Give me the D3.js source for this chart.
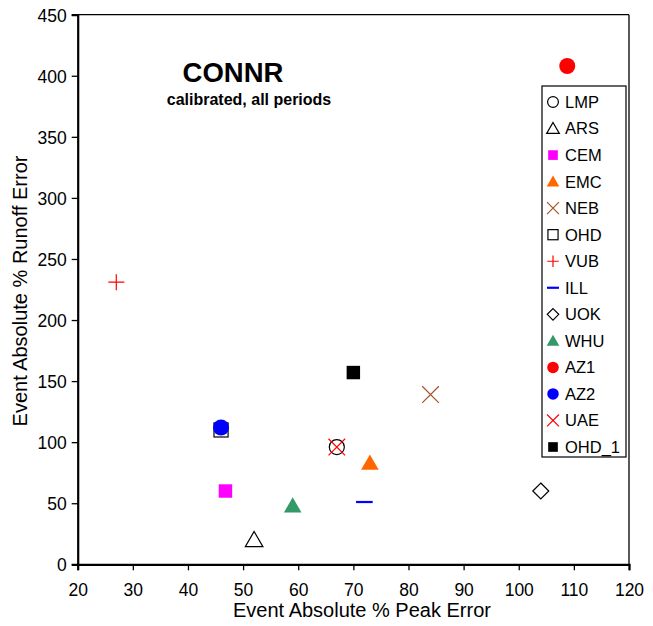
<!DOCTYPE html>
<html>
<head>
<meta charset="utf-8">
<script src="https://cdn.jsdelivr.net/npm/d3@7"></script>
<style>
  body { margin: 0; background: #fff; }
  svg { display: block; font-family: "Liberation Sans", Arial, Helvetica, sans-serif; }
</style>
</head>
<body>
<svg id="chart" width="653" height="626"></svg>
<script>
// Model names, peak error (x) and runoff error (y) per model
const models = ["LMP", "ARS", "CEM", "EMC", "NEB", "OHD", "VUB", "ILL", "UOK", "WHU", "AZ1", "AZ2", "UAE", "OHD_1"];
const peakError = [67, 52, 46.8, 73, 84, 46, 27, 72, 104, 59, 108.8, 46, 67, 70];
const runoffError = [96, 20, 60, 83, 139, 110, 231, 51, 60, 48, 408, 112, 96, 157];
const markerKind = ["circleOpen", "triangleOpen", "square", "triangle", "cross", "squareOpen", "plus", "dash", "diamondOpen", "triangle", "circle", "circle", "cross", "square"];
const markerColor = ["#000", "#000", "#FF00FF", "#FF6600", "#A5522D", "#000", "#FF0000", "#0000FF", "#000", "#339966", "#FF0000", "#0000FF", "#FF0000", "#000"];

const xTicks = [20, 30, 40, 50, 60, 70, 80, 90, 100, 110, 120];
const yTicks = [0, 50, 100, 150, 200, 250, 300, 350, 400, 450];

const svg = d3.select("#chart");
const plotL = 77.7, plotR = 629, plotT = 14.7, plotB = 564.3;

const x = d3.scaleLinear().domain([20, 120]).range([plotL, plotR]);
const y = d3.scaleLinear().domain([0, 450]).range([plotB, plotT]);

// Plot frame
svg.append("line").attr("x1", plotL).attr("x2", plotR).attr("y1", plotT).attr("y2", plotT)
  .attr("stroke", "#000").attr("stroke-width", 1.3);
svg.append("line").attr("x1", plotR).attr("x2", plotR).attr("y1", plotT).attr("y2", plotB)
  .attr("stroke", "#000").attr("stroke-width", 1.3);

// Axes
const xAxis = svg.append("g").attr("transform", `translate(0,${plotB})`)
  .call(d3.axisBottom(x).tickValues(xTicks).tickSize(6).tickPadding(13).tickFormat(d3.format("d")));
const yAxis = svg.append("g").attr("transform", `translate(${plotL},0)`)
  .call(d3.axisLeft(y).tickValues(yTicks).tickSize(6).tickPadding(5).tickFormat(d3.format("d")));
[xAxis, yAxis].forEach(g => {
  g.select(".domain").attr("stroke", "#000").attr("stroke-width", 2.2);
  g.selectAll(".tick line").attr("stroke", "#000").attr("stroke-width", 1.3);
  g.selectAll(".tick text").attr("fill", "#000").attr("font-size", 17.5)
    .attr("font-family", "Liberation Sans, Arial, sans-serif");
});
yAxis.selectAll(".tick text").attr("dy", "0.36em");

// Axis titles
svg.append("text").attr("x", 362).attr("y", 617).attr("text-anchor", "middle")
  .attr("font-size", 20).text("Event Absolute % Peak Error");
svg.append("text").attr("transform", `translate(27,291) rotate(-90)`)
  .attr("text-anchor", "middle").attr("font-size", 20).text("Event Absolute % Runoff Error");

// Chart title
svg.append("text").attr("x", 233).attr("y", 82).attr("text-anchor", "middle")
  .attr("font-size", 27.5).attr("font-weight", "bold").text("CONNR");
svg.append("text").attr("x", 249).attr("y", 105).attr("text-anchor", "middle")
  .attr("font-size", 16).attr("font-weight", "bold").text("calibrated, all periods");

// Draws one marker of the given kind centred at the origin of g
function drawMarker(g, kind, color, s) {
  switch (kind) {
    case "circle":
      g.append("circle").attr("r", s * 0.5).attr("fill", color); break;
    case "circleOpen":
      g.append("circle").attr("r", s * 0.47).attr("fill", "none").attr("stroke", color).attr("stroke-width", 1.2); break;
    case "square":
      g.append("rect").attr("x", -s * 0.42).attr("y", -s * 0.42).attr("width", s * 0.84).attr("height", s * 0.84).attr("fill", color); break;
    case "squareOpen":
      g.append("rect").attr("x", -s * 0.44).attr("y", -s * 0.44).attr("width", s * 0.88).attr("height", s * 0.88)
        .attr("fill", "none").attr("stroke", color).attr("stroke-width", 1.2); break;
    case "triangle":
    case "triangleOpen": {
      const w = s * 1.1, h = s * 0.95;
      const p = `M0,${-h * 0.55}L${w / 2},${h * 0.45}L${-w / 2},${h * 0.45}Z`;
      const path = g.append("path").attr("d", p);
      if (kind === "triangle") path.attr("fill", color);
      else path.attr("fill", "none").attr("stroke", color).attr("stroke-width", 1.2);
      break;
    }
    case "cross": {
      const r = s * 0.52;
      g.append("path").attr("d", `M${-r},${-r}L${r},${r}M${-r},${r}L${r},${-r}`)
        .attr("stroke", color).attr("stroke-width", 1.2).attr("fill", "none"); break;
    }
    case "plus": {
      const r = s * 0.5;
      g.append("path").attr("d", `M${-r},0L${r},0M0,${-r}L0,${r}`)
        .attr("stroke", color).attr("stroke-width", 1.2).attr("fill", "none"); break;
    }
    case "dash": {
      const r = s * 0.52;
      g.append("line").attr("x1", -r).attr("x2", r).attr("stroke", color).attr("stroke-width", 2.2); break;
    }
    case "diamondOpen": {
      const r = s * 0.5;
      g.append("path").attr("d", `M0,${-r}L${r},0L0,${r}L${-r},0Z`)
        .attr("fill", "none").attr("stroke", color).attr("stroke-width", 1.2); break;
    }
  }
}

// Data points
models.forEach((m, i) => {
  const g = svg.append("g").attr("transform", `translate(${x(peakError[i])},${y(runoffError[i])})`);
  drawMarker(g, markerKind[i], markerColor[i], 16);
});

// Legend
const lgX = 542, lgY = 86, lgW = 84, lgH = 371;
svg.append("rect").attr("x", lgX).attr("y", lgY).attr("width", lgW).attr("height", lgH)
  .attr("fill", "#fff").attr("stroke", "#000").attr("stroke-width", 1.2);
const rowY = d3.scaleLinear().domain([0, models.length - 1]).range([102, 447]);
models.forEach((m, i) => {
  const g = svg.append("g").attr("transform", `translate(553,${rowY(i)})`);
  drawMarker(g, markerKind[i], markerColor[i], 11.5);
  svg.append("text").attr("x", 565).attr("y", rowY(i)).attr("dy", "0.36em")
    .attr("font-size", 16.5).text(m);
});
</script>
</body>
</html>
